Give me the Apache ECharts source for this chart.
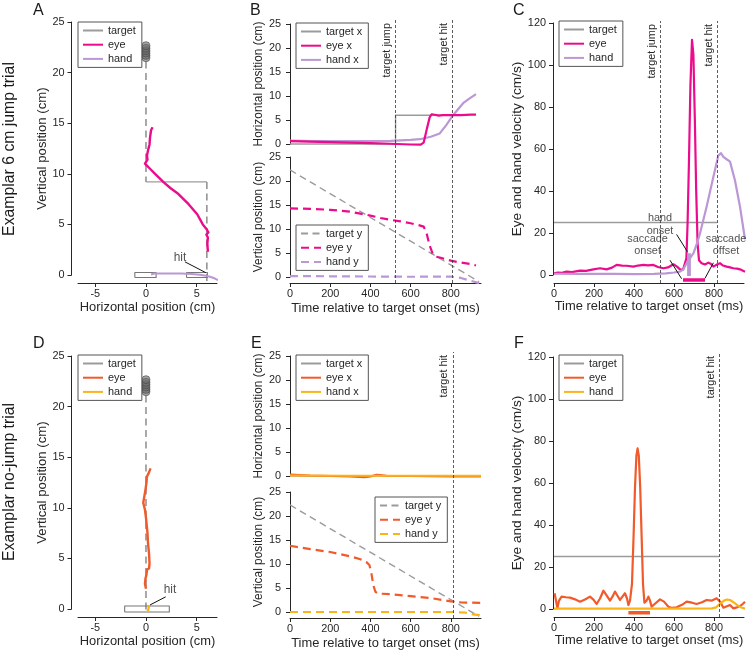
<!DOCTYPE html>
<html><head><meta charset="utf-8">
<script src="https://cdn.jsdelivr.net/npm/echarts@6/dist/echarts.min.js"></script>
<style>html,body{margin:0;padding:0;background:#fff}#c{width:750px;height:657px}</style>
</head><body><div id="c"></div>
<script>
// ---------------- data ----------------
// Panel A (6 cm jump trial, spatial view, cm)
const targetDotsY = [21.47, 21.7, 21.93, 22.17, 22.4, 22.66];
const A_targetPre = [[0, 21.1], [0, 9.2]];
const A_targetJump = [[0, 9.2], [6, 9.2]];
const A_targetPost = [[6, 9.2], [6, -0.6]];
const A_eye = [[0.65,14.6],[0.5,14.3],[0.4,13.6],[0.35,12.9],[0.2,12.3],[0.1,11.8],[0.15,11.4],[-0.1,11.0],[0.4,10.5],[0.9,10.0],[1.7,9.2],[2.4,8.6],[3.2,8.0],[4.2,7.0],[5.05,6.0],[5.6,5.0],[6.0,4.5],[6.15,4.2],[5.95,4.0],[6.1,3.7],[6.05,3.1],[6.1,2.3]];
const A_hand = [[0.5,0.05],[0.8,0.15],[1.5,0.15],[2.5,0.15],[3.5,0.15],[4.5,0.1],[5.3,0.02],[5.9,-0.08],[6.4,-0.2],[6.8,-0.35],[7.1,-0.5]];
const A_paddleStart = [-1.1, 1.0, -0.25, 0.25];   // xmin, xmax, ymin, ymax
const A_paddleHit = [4.0, 6.05, -0.25, 0.25];
const A_hitText = [3.35, 1.7];
const A_hitArrow = [[3.84, 1.3], [5.9, 0.23]];

// Panel B (time courses, jump trial)
const B_jump = 525, B_hit = 806;
const B_targetX_t = [0, 525, 525, 810];
const B_targetX_v = [0, 0, 6, 6];
const B_eyeX_t = [0,100,200,300,400,500,600,650,665,680,695,705,720,740,760,800,850,900,925];
const B_eyeX_v = [0.6,0.5,0.4,0.3,0.2,0.05,-0.1,-0.15,0.3,3.0,5.6,6.2,6.1,5.9,6.0,6.0,6.0,6.1,6.1];
const B_handX_t = [0,100,200,300,400,500,550,600,646,700,745,778,811,861,890,925];
const B_handX_v = [0.7,0.6,0.6,0.6,0.6,0.65,0.75,0.85,1.0,1.5,2.2,4.0,6.0,8.5,9.4,10.4];
const B_targetY_t = [0, 940];
const B_targetY_v = [22.3, -0.96];
const B_eyeY_t = [0,100,200,300,350,400,450,500,550,600,640,665,680,695,710,720,750,800,850,900,925];
const B_eyeY_v = [14.3,14.2,14.0,13.6,13.2,12.8,12.3,11.9,11.6,11.2,10.8,10.5,9.0,6.5,4.8,4.3,4.0,3.4,3.0,2.7,2.4];
const B_handY_t = [0,200,400,600,800,850,900,944];
const B_handY_v = [0.2,0.15,0.1,0.05,0.1,-0.2,-0.8,-1.3];

// Panel C (velocities, jump trial, cm/s)
const C_jump = 532, C_hit = 815;
const C_target_t = [0, 815];
const C_target_v = [25, 25];
const C_eye_t = [0,20,40,63,90,130,160,197,230,263,290,313,340,363,397,420,447,470,497,520,547,570,597,615,630,645,655,662,668,675,682,690,697,704,711,718,725,738,755,772,785,797,815,830,845,863,880,897,915,930,955];
const C_eye_v = [0.8,1.2,1.0,1.6,1.4,2.1,2.0,2.7,3.2,2.7,3.5,4.8,4.5,4.4,4.0,4.5,4.8,4.6,4.8,3.8,3.2,3.6,5.1,4.0,2.7,2.5,2.0,8,25,55,90,112,105,75,40,15,7,5.6,5.0,5.9,5.2,4.0,5.0,5.6,4.5,4.0,3.6,3.2,3.0,2.7,1.6];
const C_hand_t = [0,100,200,300,400,500,560,600,630,647,663,680,697,715,730,763,797,822,835,847,865,880,905,930,955];
const C_hand_v = [0.6,0.5,0.5,0.5,0.4,0.5,0.8,1.2,1.6,2.7,5.6,8.0,10.3,15,19.8,32.5,46.8,57,58,56.3,55,54,45,32.5,17];
const C_saccade = [645, 755, -1.9];     // onset, offset, drawn level
const C_handOnset = [675, 0, 10.8];     // time, from, to
const C_notes = ['hand\nonset', 'saccade\nonset', 'saccade\noffset'];
const C_notePos = [[530, 24.6], [468, 14.8], [860, 14.8]];
const C_arrows = [[[613, 19.8], [667, 11.6]], [[580, 7.5], [638, -1.3]], [[797, 6.3], [755, -1.1]]];

// Panel D (no-jump trial, spatial view)
const D_target = [[0, 21.1], [0, -0.3]];
const D_eye = [[0.45,13.9],[0.3,13.5],[0.1,13.1],[0.05,12.5],[-0.05,11.8],[-0.15,11.2],[-0.27,10.5],[-0.1,9.8],[0,9.0],[0.05,8.5],[0.15,7.5],[0.2,6.5],[0.3,5.5],[0.35,4.5],[0.3,4.0],[0.1,3.9],[0.05,3.4],[-0.05,3.0],[-0.1,2.5],[0,2.0]];
const D_hand = [[0.17,-0.25],[0.25,0.05],[0.3,0.35]];
const D_paddle = [-2.1, 2.3, -0.3, 0.3];
const D_hitText = [2.36, 1.88];
const D_hitArrow = [[1.94, 1.2], [0.4, 0.4]];

// Panel E (time courses, no-jump trial)
const E_hit = 810;
const E_targetX_t = [0, 950];
const E_targetX_v = [0, 0];
const E_eyeX_t = [0,50,100,200,300,370,400,430,450,480,600,700,800,950];
const E_eyeX_v = [0.3,0.2,0.1,0,-0.1,-0.25,-0.1,0.25,0.2,0.05,0,-0.05,-0.1,-0.1];
const E_handX_t = [0,300,600,950];
const E_handX_v = [0.1,0.05,0.05,0.05];
const E_targetY_t = [0, 940];
const E_targetY_v = [22.3, -0.9];
const E_eyeY_t = [0,100,200,300,350,380,395,405,415,425,440,460,500,600,700,800,850,900,950];
const E_eyeY_v = [13.8,13.1,12.5,11.6,11.0,10.4,9.8,8.0,5.5,4.2,3.8,3.8,3.7,3.3,2.9,2.2,2.0,1.95,1.9];
const E_handY_t = [0,200,400,600,800,870,910,950];
const E_handY_v = [0,0,0,0,0,-0.1,-0.5,-0.7];

// Panel F (velocities, no-jump trial)
const F_hit = 825;
const F_target_t = [0, 825];
const F_target_v = [25, 25];
const F_eye_t = [3,10,17,25,38,60,80,105,130,155,180,197,213,230,247,263,280,293,305,318,330,343,355,365,372,380,390,398,405,412,418,424,431,438,445,452,463,472,480,488,505,530,550,572,590,613,640,663,690,713,740,763,790,813,830,847,862,880,897,915,930,945,955];
const F_eye_v = [7.5,4,0.3,4,5.9,5.6,5.4,4.6,3.5,4.5,5.9,4.5,2.4,5,8.7,6.5,4,6,8.3,6.2,4.3,6,7.5,5,1.9,4,12,35,58,73,76.5,73,58,35,12,3,4,5.9,4,1.1,2.5,4.6,3.5,1.1,0.5,0.8,2,3.5,3,2.4,3.2,4.3,4.0,5.1,3.5,0.6,1.2,1.9,0.3,0.8,1.4,2.5,3.5];
const F_hand_t = [0,200,400,600,790,810,830,850,865,880,900,920,940,955];
const F_hand_v = [0.2,0.2,0.2,0.2,0.3,0.8,2.5,4.0,4.5,4.3,3.0,1.6,0.6,0.2];
const F_saccade = [372, 480, -1.8];

// tick labels
const posTicks = [-5, 0, 5];
const cmTicks = [0, 5, 10, 15, 20, 25];
const timeTicks = [0, 200, 400, 600, 800];
const velTicks = [0, 20, 40, 60, 80, 100, 120];

// ---------------- style ----------------
function fontAvail(name) {
  const c = document.createElement('canvas').getContext('2d');
  const s = 'Time relative to target onset (ms) 0123456789';
  c.font = '40px monospace'; const a = c.measureText(s).width;
  c.font = "40px '" + name + "', monospace"; const b = c.measureText(s).width;
  return Math.abs(a - b) > 1;
}
const NARROW = fontAvail('Liberation Sans Narrow');
const FF = NARROW ? 'Liberation Sans Narrow' : 'Liberation Sans';
const K = NARROW ? 1 : 0.85;
const fs = v => Math.round(v * K * 10) / 10;

const MAG = '#ec0b8d', PUR = '#bb97d5', GRY = '#9b9b9b', ORG = '#f15a2a', YEL = '#fbb416', INK = '#262626';
const DASH = [8, 5], TDASH = [7, 4.5];

const pairs = (t, v) => t.map((x, i) => [x, v[i]]);
const rect = p => [[p[0], p[2]], [p[1], p[2]], [p[1], p[3]], [p[0], p[3]], [p[0], p[2]]];

const grids = [
  {left: 78, top: 22, width: 139, height: 253},   // 0 A
  {left: 290, top: 24, width: 191, height: 120},  // 1 B top
  {left: 290, top: 157, width: 191, height: 120}, // 2 B bottom
  {left: 290, top: 20, width: 191, height: 263},  // 3 B overlay
  {left: 554, top: 23, width: 190, height: 252},  // 4 C
  {left: 554, top: 21, width: 190, height: 262},  // 5 C overlay
  {left: 78, top: 356, width: 139, height: 253},  // 6 D
  {left: 290, top: 356, width: 191, height: 120}, // 7 E top
  {left: 290, top: 492, width: 191, height: 120}, // 8 E bottom
  {left: 290, top: 352, width: 191, height: 266}, // 9 E overlay
  {left: 554, top: 357, width: 190, height: 252}, // 10 F
  {left: 554, top: 353, width: 190, height: 264}  // 11 F overlay
].map(g => Object.assign({outerBoundsMode: 'none', containLabel: false}, g));

function axisBase(show) {
  return {
    type: 'value', show: show, scale: false,
    axisLine: {show: true, onZero: false, lineStyle: {color: INK, width: 1}},
    axisTick: {show: true, length: 4, inside: false, lineStyle: {color: INK, width: 1}},
    axisLabel: {show: true, color: INK, fontSize: fs(12.8), fontFamily: FF},
    splitLine: {show: false},
    nameLocation: 'middle',
    nameTextStyle: {color: INK, fontFamily: FF}
  };
}
function xAx(grid, min, max, ticks, offset, name, gap) {
  const a = axisBase(!!ticks);
  a.gridIndex = grid; a.min = min; a.max = max;
  if (ticks) {
    a.axisTick.customValues = ticks; a.axisLabel.customValues = ticks;
    a.axisLabel.margin = 5; a.offset = offset;
    a.name = name; a.nameGap = gap; a.nameTextStyle.fontSize = fs(15.2);
  }
  return a;
}
function yAx(grid, min, max, ticks, offset, name, gap, size, margin) {
  const a = axisBase(!!ticks);
  a.gridIndex = grid; a.min = min; a.max = max;
  if (ticks) {
    a.axisTick.customValues = ticks; a.axisLabel.customValues = ticks;
    a.axisLabel.margin = margin; a.offset = offset;
    a.name = name; a.nameGap = gap; a.nameTextStyle.fontSize = fs(size);
  }
  return a;
}

const xAxis = [
  xAx(0, -6.7, 7.0, posTicks, 8, 'Horizontal position (cm)', 18),
  xAx(1, 0, 950, null), xAx(2, 0, 950, timeTicks, 6, 'Time relative to target onset (ms)', 19),
  xAx(3, 0, 950, null),
  xAx(4, 0, 950, timeTicks, 8, 'Time relative to target onset (ms)', 17),
  xAx(5, 0, 950, null),
  xAx(6, -6.7, 7.0, posTicks, 8, 'Horizontal position (cm)', 18),
  xAx(7, 0, 950, null), xAx(8, 0, 950, timeTicks, 6, 'Time relative to target onset (ms)', 19),
  xAx(9, 0, 950, null),
  xAx(10, 0, 950, timeTicks, 8, 'Time relative to target onset (ms)', 17),
  xAx(11, 0, 950, null)
];
const yAxis = [
  yAx(0, 0, 25, cmTicks, 6.5, 'Vertical position (cm)', 23, 15.5, 7),
  yAx(1, 0, 25, cmTicks, 0, 'Horizontal position (cm)', 25, 14, 9),
  yAx(2, 0, 25, cmTicks, 0, 'Vertical position (cm)', 25, 14, 9),
  yAx(3, 0, 1, null),
  yAx(4, 0, 120, velTicks, 1, 'Eye and hand velocity (cm/s)', 28, 16, 7),
  yAx(5, -3.333, 121.43, null),
  yAx(6, 0, 25, cmTicks, 6.5, 'Vertical position (cm)', 23, 15.5, 7),
  yAx(7, 0, 25, cmTicks, 0, 'Horizontal position (cm)', 25, 14, 9),
  yAx(8, 0, 25, cmTicks, 0, 'Vertical position (cm)', 25, 14, 9),
  yAx(9, 0, 1, null),
  yAx(10, 0, 120, velTicks, 1, 'Eye and hand velocity (cm/s)', 28, 16, 7),
  yAx(11, -3.81, 122.86, null)
];

function ln(name, gi, data, color, width, dash, z) {
  return {type: 'line', name: name, xAxisIndex: gi, yAxisIndex: gi, data: data,
    symbol: 'none', showSymbol: false, clip: false, silent: true, animation: false, z: z || 2,
    lineStyle: {color: color, width: width, type: dash || 'solid', cap: 'butt', join: 'round'},
    itemStyle: {color: color}};
}
function vlines(gi, items) {
  return {type: 'line', name: 'vl' + gi, xAxisIndex: gi, yAxisIndex: gi, data: [[0, 0]], symbol: 'none',
    lineStyle: {opacity: 0}, silent: true, animation: false, z: 1,
    markLine: {silent: true, symbol: ['none', 'none'], animation: false,
      lineStyle: {color: '#333', width: 0.8, type: [3, 2]},
      label: {show: true, position: 'insideEndTop', distance: 3, formatter: p => p.name,
        color: INK, fontSize: fs(12.8), fontFamily: FF},
      emphasis: {disabled: true},
      data: items.map(d => ({name: d[0], xAxis: d[1]}))}};
}
function notes(gi, name, pts, labels, arrows, size) {
  return {type: 'scatter', name: name, xAxisIndex: gi, yAxisIndex: gi, symbolSize: 1, silent: true,
    animation: false, z: 6, clip: false,
    itemStyle: {color: 'rgba(0,0,0,0)'},
    label: {show: true, position: 'inside', formatter: p => p.name, color: INK,
      fontSize: fs(size), fontFamily: FF, lineHeight: 12.5},
    data: pts.map((p, i) => ({name: labels[i], value: p})),
    markLine: {silent: true, animation: false, symbol: ['none', 'arrow'], symbolSize: [0, 7],
      lineStyle: {color: '#111', width: 1, type: 'solid'}, label: {show: false},
      emphasis: {disabled: true},
      data: arrows.map(a => [{coord: a[0]}, {coord: a[1]}])}};
}
function dots(gi) {
  return {type: 'scatter', name: 'dots' + gi, xAxisIndex: gi, yAxisIndex: gi, silent: true, animation: false,
    symbol: 'circle', symbolSize: 8, z: 4,
    itemStyle: {color: 'rgba(105,105,105,0.75)', borderColor: '#4a4a4a', borderWidth: 0.8},
    data: targetDotsY.map(y => [0, y])};
}
function legend(items, left, top) {
  return {data: items, left: left, top: top, orient: 'vertical', itemWidth: 20, itemHeight: 10, itemGap: 3.2,
    padding: [3, 6, 3, 4], borderColor: '#555', borderWidth: 1, borderRadius: 0, backgroundColor: '#fff',
    selectedMode: false, formatter: n => n.split('|')[0], z: 10,
    itemStyle: {opacity: 0, borderWidth: 0},
    textStyle: {fontSize: fs(12.8), fontFamily: FF, color: INK}};
}

const series = [
  // A
  ln('tpre|A', 0, A_targetPre, '#8c8c8c', 1.5, TDASH, 2),
  ln('target|A', 0, A_targetJump, GRY, 1.4, null, 2),
  ln('tpost|A', 0, A_targetPost, '#8c8c8c', 1.5, TDASH, 2),
  dots(0),
  ln('pad1|A', 0, rect(A_paddleStart), '#777', 1.1, null, 2),
  ln('pad2|A', 0, rect(A_paddleHit), '#777', 1.1, null, 2),
  ln('hand|A', 0, A_hand, PUR, 2, null, 3),
  ln('eye|A', 0, A_eye, MAG, 2.4, null, 3),
  notes(0, 'hitA', [A_hitText], ['hit'], [A_hitArrow], 14),
  // B top
  ln('target x|B', 1, pairs(B_targetX_t, B_targetX_v), GRY, 1.4, null, 2),
  ln('hand x|B', 1, pairs(B_handX_t, B_handX_v), PUR, 2.2, null, 3),
  ln('eye x|B', 1, pairs(B_eyeX_t, B_eyeX_v), MAG, 2.2, null, 3),
  // B bottom
  ln('target y|B', 2, pairs(B_targetY_t, B_targetY_v), GRY, 1.4, TDASH, 2),
  ln('eye y|B', 2, pairs(B_eyeY_t, B_eyeY_v), MAG, 2.2, DASH, 3),
  ln('hand y|B', 2, pairs(B_handY_t, B_handY_v), PUR, 2.2, DASH, 3),
  vlines(3, [['target jump', B_jump], ['target hit', B_hit]]),
  // C
  ln('target|C', 4, pairs(C_target_t, C_target_v), GRY, 1.3, null, 2),
  ln('eye|C', 4, pairs(C_eye_t, C_eye_v), MAG, 2.2, null, 3),
  ln('hand|C', 4, pairs(C_hand_t, C_hand_v), PUR, 2.2, null, 3),
  vlines(5, [['target jump', C_jump], ['target hit', C_hit]]),
  ln('sacbar|C', 5, [[C_saccade[0], C_saccade[2]], [C_saccade[1], C_saccade[2]]], MAG, 3.5, null, 4),
  ln('handbar|C', 5, [[C_handOnset[0], C_handOnset[1]], [C_handOnset[0], C_handOnset[2]]], PUR, 3.8, null, 4),
  notes(5, 'notesC', C_notePos, C_notes, C_arrows, 12.8),
  // D
  ln('target|D', 6, [], GRY, 1.4, null, 2),
  ln('tdash|D', 6, D_target, '#8c8c8c', 1.5, TDASH, 2),
  dots(6),
  ln('pad|D', 6, rect(D_paddle), '#777', 1.1, null, 2),
  ln('eye|D', 6, D_eye, ORG, 2.4, null, 3),
  ln('hand|D', 6, D_hand, YEL, 2.4, null, 3),
  notes(6, 'hitD', [D_hitText], ['hit'], [D_hitArrow], 14),
  // E top
  ln('target x|E', 7, pairs(E_targetX_t, E_targetX_v), GRY, 1.4, null, 2),
  ln('eye x|E', 7, pairs(E_eyeX_t, E_eyeX_v), ORG, 2.2, null, 3),
  ln('hand x|E', 7, pairs(E_handX_t, E_handX_v), YEL, 2.2, null, 3),
  // E bottom
  ln('target y|E', 8, pairs(E_targetY_t, E_targetY_v), GRY, 1.4, TDASH, 2),
  ln('eye y|E', 8, pairs(E_eyeY_t, E_eyeY_v), ORG, 2.2, DASH, 3),
  ln('hand y|E', 8, pairs(E_handY_t, E_handY_v), YEL, 2.2, DASH, 3),
  vlines(9, [['target hit', E_hit]]),
  // F
  ln('target|F', 10, pairs(F_target_t, F_target_v), GRY, 1.3, null, 2),
  ln('eye|F', 10, pairs(F_eye_t, F_eye_v), ORG, 2.2, null, 3),
  ln('hand|F', 10, pairs(F_hand_t, F_hand_v), YEL, 2.2, null, 4),
  vlines(11, [['target hit', F_hit]]),
  ln('sacbar|F', 11, [[F_saccade[0], F_saccade[2]], [F_saccade[1], F_saccade[2]]], ORG, 3.5, null, 4)
];

const legends = [
  legend(['target|A', 'eye|A', 'hand|A'], 78, 22),
  legend(['target x|B', 'eye x|B', 'hand x|B'], 296, 23),
  legend(['target y|B', 'eye y|B', 'hand y|B'], 296, 225),
  legend(['target|C', 'eye|C', 'hand|C'], 559, 21),
  legend(['target|D', 'eye|D', 'hand|D'], 78, 355),
  legend(['target x|E', 'eye x|E', 'hand x|E'], 296, 355),
  legend(['target y|E', 'eye y|E', 'hand y|E'], 375, 497),
  legend(['target|F', 'eye|F', 'hand|F'], 559, 355)
];

function txt(s, x, y, size, fam, rot) {
  return {type: 'text', x: x, y: y, rotation: rot || 0, silent: true,
    style: {text: s, fontSize: size, fontFamily: fam, fill: '#1a1a1a', align: rot ? 'center' : 'left', verticalAlign: rot ? 'middle' : 'top'}};
}
const graphic = [
  txt('A', 33, 3, 16, 'Liberation Sans'), txt('B', 250, 3, 16, 'Liberation Sans'), txt('C', 513, 3, 16, 'Liberation Sans'),
  txt('D', 33, 336, 16, 'Liberation Sans'), txt('E', 251, 336, 16, 'Liberation Sans'), txt('F', 514, 336, 16, 'Liberation Sans'),
  txt('Examplar 6 cm jump trial', 10, 149, fs(18.6), FF, Math.PI / 2),
  txt('Examplar no-jump trial', 10, 482, fs(18.6), FF, Math.PI / 2)
];

const chart = echarts.init(document.getElementById('c'), null, {renderer: 'canvas', width: 750, height: 657});
chart.setOption({
  animation: false, backgroundColor: '#fff',
  textStyle: {fontFamily: FF},
  grid: grids, xAxis: xAxis, yAxis: yAxis, legend: legends, series: series, graphic: graphic
});
</script></body></html>
